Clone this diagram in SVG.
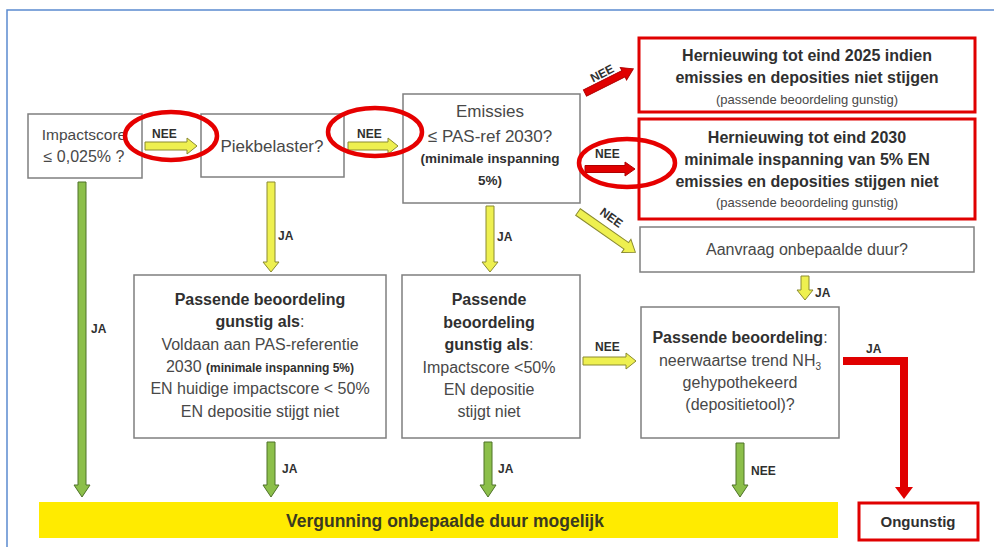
<svg xmlns="http://www.w3.org/2000/svg" width="994" height="547" viewBox="0 0 994 547">
<style>
  .box{fill:#fff;stroke:#7f7f7f;stroke-width:1.5}
  .rbox{fill:#fff;stroke:#e00000;stroke-width:3}
  .t{font-family:"Liberation Sans",Arial,sans-serif;fill:#484848;text-anchor:middle}
  .b{font-weight:bold;fill:#303030}
  .lbl{font-family:"Liberation Sans",Arial,sans-serif;font-weight:bold;font-size:12px;fill:#303030}
  .ya{fill:#eef050;stroke:#8a8a30;stroke-width:1}
  .ga{fill:#8cbf4a;stroke:#4f7228;stroke-width:1}
  .ra{fill:#e00000;stroke:#b00000;stroke-width:1}
  .ring{fill:none;stroke:#e60000;stroke-width:4.5}
</style>
<rect width="994" height="547" fill="#fff"/>
<path d="M7,547 V10 H994" fill="none" stroke="#5b8bd0" stroke-width="1.5"/>

<g id="n-impact">
  <rect class="box" x="28" y="114" width="114" height="64"/>
  <text class="t" x="84" y="140" font-size="15.5">Impactscore</text>
  <text class="t" x="84" y="162" font-size="16">≤ 0,025% ?</text>
</g>
<g id="n-piek">
  <rect class="box" x="201" y="114" width="143" height="63"/>
  <text class="t" x="272" y="152" font-size="17">Piekbelaster?</text>
</g>
<g id="n-emissies">
  <rect class="box" x="403" y="94" width="177" height="109"/>
  <text class="t" x="490" y="117" font-size="17">Emissies</text>
  <text class="t" x="490" y="142" font-size="17">≤ PAS-ref 2030?</text>
  <text class="t b" x="490" y="163" font-size="13.5">(minimale inspanning</text>
  <text class="t b" x="490" y="185" font-size="13.5">5%)</text>
</g>
<g id="n-hern2025">
  <rect class="rbox" x="639" y="38" width="336" height="74"/>
  <text class="t b" x="807" y="61" font-size="16">Hernieuwing tot eind 2025 indien</text>
  <text class="t b" x="807" y="83" font-size="16">emissies en deposities niet stijgen</text>
  <text class="t" x="807" y="104" font-size="13">(passende beoordeling gunstig)</text>
</g>
<g id="n-hern2030">
  <rect class="rbox" x="639" y="119" width="336" height="100"/>
  <text class="t b" x="807" y="143" font-size="16">Hernieuwing tot eind 2030</text>
  <text class="t b" x="807" y="165" font-size="16">minimale inspanning van 5% EN</text>
  <text class="t b" x="807" y="187" font-size="16">emissies en deposities stijgen niet</text>
  <text class="t" x="807" y="207" font-size="13">(passende beoordeling gunstig)</text>
</g>
<g id="n-aanvraag">
  <rect class="box" x="640" y="227" width="334" height="45"/>
  <text class="t" x="807" y="255" font-size="16">Aanvraag onbepaalde duur?</text>
</g>
<g id="n-pb1">
  <rect class="box" x="134" y="275" width="252" height="163"/>
  <text class="t b" x="260" y="305" font-size="16">Passende beoordeling</text>
  <text class="t" x="260" y="327" font-size="16"><tspan class="b">gunstig als</tspan>:</text>
  <text class="t" x="260" y="350" font-size="16">Voldaan aan PAS-referentie</text>
  <text class="t" x="260" y="372" font-size="16">2030 <tspan class="b" font-size="12">(minimale inspanning 5%)</tspan></text>
  <text class="t" x="260" y="394" font-size="16">EN huidige impactscore &lt; 50%</text>
  <text class="t" x="260" y="417" font-size="16">EN depositie stijgt niet</text>
</g>
<g id="n-pb2">
  <rect class="box" x="402" y="275" width="178" height="163"/>
  <text class="t b" x="489" y="305" font-size="16">Passende</text>
  <text class="t b" x="489" y="328" font-size="16">beoordeling</text>
  <text class="t" x="489" y="350" font-size="16"><tspan class="b">gunstig als</tspan>:</text>
  <text class="t" x="489" y="373" font-size="16">Impactscore &lt;50%</text>
  <text class="t" x="489" y="395" font-size="16">EN depositie</text>
  <text class="t" x="489" y="417" font-size="16">stijgt niet</text>
</g>
<g id="n-pb3">
  <rect class="box" x="641" y="307" width="198" height="131"/>
  <text class="t" x="740" y="343" font-size="16"><tspan class="b">Passende beoordeling</tspan>:</text>
  <text class="t" x="740" y="366" font-size="16">neerwaartse trend NH<tspan font-size="10" dy="4">3</tspan></text>
  <text class="t" x="740" y="388" font-size="16">gehypothekeerd</text>
  <text class="t" x="740" y="410" font-size="16">(depositietool)?</text>
</g>
<g id="n-vergunning">
  <rect x="39" y="502" width="799" height="36" fill="#ffeb00"/>
  <text class="t b" x="445" y="527" font-size="17.5" style="fill:#3a3a20">Vergunning onbepaalde duur mogelijk</text>
</g>
<g id="n-ongunstig">
  <rect class="rbox" x="859" y="503" width="119" height="37"/>
  <text class="t b" x="918" y="527" font-size="15">Ongunstig</text>
</g>

<g id="connectors">
  <polygon class="ya" points="145,142 187,142 187,138 197,146 187,154 187,150 145,150"/>
  <polygon class="ya" points="348,142 388,142 388,138 398,146 388,154 388,150 348,150"/>
  <polygon class="ya" points="583,357 626,357 626,353 636,361 626,369 626,365 583,365"/>
  <polygon class="ya" transform="translate(578,212) rotate(35)" points="0,-4 59,-4 59,-8 70,0 59,8 59,4 0,4"/>
  <polygon class="ra" transform="translate(585,93) rotate(-26.6)" points="0,-3.5 43,-3.5 43,-7 54,0 43,7 43,3.5 0,3.5"/>
  <polygon class="ra" points="585,165.5 625,165.5 625,162 635,169 625,176 625,172.5 585,172.5"/>
  <polygon class="ya" points="267,182 275,182 275,262 279,262 271,272 263,262 267,262"/>
  <polygon class="ya" points="486,206 494,206 494,262 498,262 490,272 482,262 486,262"/>
  <polygon class="ya" points="801,276 809,276 809,290 813,290 805,300 797,290 801,290"/>
  <polygon class="ga" points="78,182 86,182 86,485 90,485 82,497 74,485 78,485"/>
  <polygon class="ga" points="267,442 275,442 275,485 279,485 271,497 263,485 267,485"/>
  <polygon class="ga" points="484,442 492,442 492,485 496,485 488,497 480,485 484,485"/>
  <polygon class="ga" points="736,443 744,443 744,485 748,485 740,497 732,485 736,485"/>
  <path d="M843,361 H904 V489" fill="none" stroke="#e00000" stroke-width="8"/>
  <polygon points="895,487 913,487 904,499" fill="#e00000"/>
  <text class="lbl" x="152" y="138">NEE</text>
  <text class="lbl" x="357" y="138">NEE</text>
  <text class="lbl" x="595" y="158">NEE</text>
  <text class="lbl" x="595" y="351">NEE</text>
  <text class="lbl" text-anchor="middle" transform="translate(604,77) rotate(-27)">NEE</text>
  <text class="lbl" text-anchor="middle" transform="translate(609,221) rotate(36)">NEE</text>
  <text class="lbl" x="278" y="240">JA</text>
  <text class="lbl" x="497" y="241">JA</text>
  <text class="lbl" x="815" y="297">JA</text>
  <text class="lbl" x="91" y="333">JA</text>
  <text class="lbl" x="282" y="473">JA</text>
  <text class="lbl" x="498" y="473">JA</text>
  <text class="lbl" x="751" y="475">NEE</text>
  <text class="lbl" x="866" y="353">JA</text>
  <ellipse class="ring" cx="171" cy="136" rx="46" ry="24"/>
  <ellipse class="ring" cx="375" cy="132" rx="47" ry="24"/>
  <ellipse class="ring" cx="627" cy="163" rx="48" ry="24"/>
</g>
</svg>
